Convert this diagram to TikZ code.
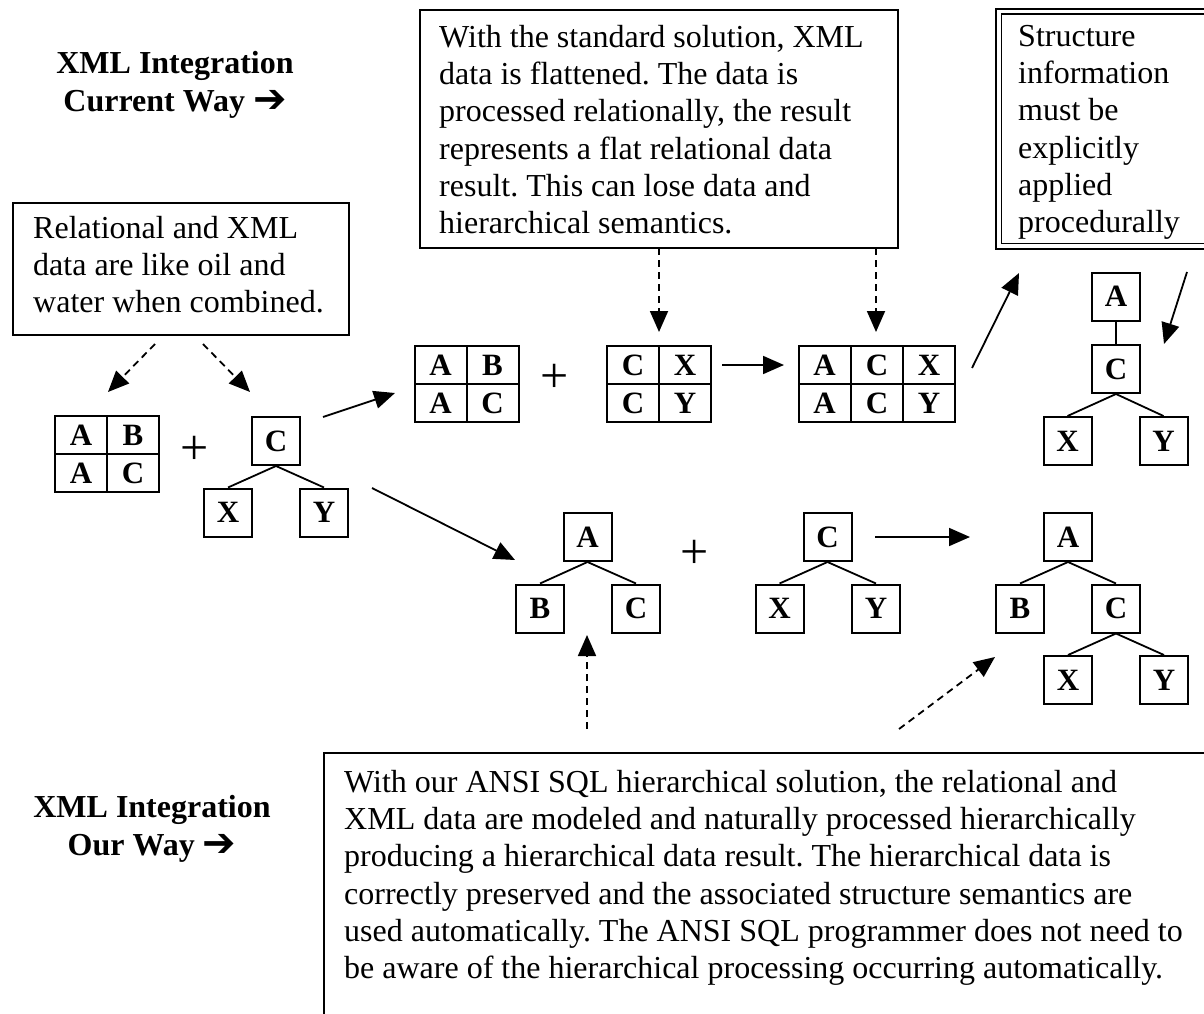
\documentclass[tikz,border=0pt]{standalone}
\usepackage{fontspec}
\setmainfont{Liberation Serif}
\newfontfamily\dejavu{DejaVu Sans}
\usetikzlibrary{arrows.meta}
\frenchspacing
\newcommand{\bodyfont}{\fontsize{32}{37.3}\selectfont\frenchspacing}
\newcommand{\ttlfont}{\fontsize{32}{38}\selectfont\bfseries}
\newcommand{\cellfont}{\fontsize{31}{32}\selectfont\bfseries}
\newcommand{\plusfont}{\fontsize{50}{50}\selectfont}
\newcommand{\rarr}{\raisebox{-1pt}{\dejavu\bfseries\fontsize{40}{40}\selectfont ➔}}
\tikzset{
  cell/.style={draw, line width=2pt, minimum width=52pt, minimum height=38pt, inner sep=0pt, font=\cellfont},
  tbox/.style={draw, line width=2pt, minimum width=48pt, minimum height=48pt, inner sep=0pt, font=\cellfont},
  frame/.style={draw, line width=2pt, inner sep=0pt, anchor=north west},
  arr/.style={-{Triangle[length=21pt,width=18pt]}, line width=1.8pt},
  darr/.style={arr, dash pattern=on 7pt off 5pt},
  treeedge/.style={line width=1.8pt},
  txt/.style={anchor=north west, inner sep=0pt, align=left, font=\bodyfont},
  ttl/.style={anchor=north, inner sep=0pt, align=center, font=\ttlfont},
  plus/.style={inner sep=0pt, font=\plusfont}
}
\begin{document}
\begin{tikzpicture}[x=1pt,y=-1pt]
\useasboundingbox (0,0) rectangle (1204,1014);
\fill[white] (0,0) rectangle (1204,1014);
\clip (0,0) rectangle (1204,1014);

% titles
\node[ttl] (title1) at (175,46.4) {\strut XML Integration\\Current Way \rarr};
\node[ttl] (title2) at (152,790.4) {\strut XML Integration\\Our Way \rarr};

% text boxes
\node[frame, minimum width=336pt, minimum height=132pt] (relbox) at (12,202) {};
\node[txt] (reltext) at (33,211.9) {\strut Relational and XML\\data are like oil and\\water when combined.};

\node[frame, minimum width=478pt, minimum height=238pt] (stdbox) at (419,9) {};
\node[txt] (stdtext) at (439,20.9) {\strut With the standard solution, XML\\data is flattened. The data is\\processed relationally, the result\\represents a flat relational data\\result. This can lose data and\\hierarchical semantics.};

\node[frame, minimum width=240pt, minimum height=240pt] (strbox) at (995,8) {};
\node[draw, line width=1.3pt, inner sep=0pt, anchor=north west, minimum width=240pt, minimum height=229pt] (strinner) at (1000.5,13.5) {};
\node[txt] (strtext) at (1018,19.9) {\strut Structure\\information\\must be\\explicitly\\applied\\procedurally};

\node[frame, minimum width=900pt, minimum height=300pt] (ourbox) at (323,752) {};
\node[txt] (ourtext) at (344,765.9) {\strut With our ANSI SQL hierarchical solution, the relational and\\XML data are modeled and naturally processed hierarchically\\producing a hierarchical data result. The hierarchical data is\\correctly preserved and the associated structure semantics are\\used automatically. The ANSI SQL programmer does not need to\\be aware of the hierarchical processing occurring automatically.};

% left table
\node[cell] (lt1) at (81,435) {A};
\node[cell] (lt2) at (133,435) {B};
\node[cell] (lt3) at (81,473) {A};
\node[cell] (lt4) at (133,473) {C};
\node[plus] (p1) at (195,450) {+};

% left tree
\node[tbox] (lC) at (276,441) {C};
\node[tbox] (lX) at (228,512.5) {X};
\node[tbox] (lY) at (324,512.5) {Y};
\draw[treeedge] (lC.south) -- (lX.north);
\draw[treeedge] (lC.south) -- (lY.north);

% top tables
\node[cell] (t1a) at (440.5,365) {A};
\node[cell] (t1b) at (492.5,365) {B};
\node[cell] (t1c) at (440.5,403) {A};
\node[cell] (t1d) at (492.5,403) {C};
\node[plus] (p2) at (555,378) {+};
\node[cell] (t2a) at (633,365) {C};
\node[cell] (t2b) at (685,365) {X};
\node[cell] (t2c) at (633,403) {C};
\node[cell] (t2d) at (685,403) {Y};
\node[cell] (t3a) at (824.5,365) {A};
\node[cell] (t3b) at (877,365) {C};
\node[cell] (t3c) at (929,365) {X};
\node[cell] (t3d) at (824.5,403) {A};
\node[cell] (t3e) at (877,403) {C};
\node[cell] (t3f) at (929,403) {Y};

% top right tree
\node[tbox] (rA) at (1116,296.5) {A};
\node[tbox] (rC) at (1116,369) {C};
\node[tbox] (rX) at (1067.5,441) {X};
\node[tbox] (rY) at (1163.5,441) {Y};
\draw[treeedge] (rA.south) -- (rC.north);
\draw[treeedge] (rC.south) -- (rX.north);
\draw[treeedge] (rC.south) -- (rY.north);

% bottom trees
\node[tbox] (bA) at (587.5,537) {A};
\node[tbox] (bB) at (540,608.5) {B};
\node[tbox] (bC) at (636,608.5) {C};
\draw[treeedge] (bA.south) -- (bB.north);
\draw[treeedge] (bA.south) -- (bC.north);
\node[plus] (p3) at (695,554) {+};
\node[tbox] (mC) at (827.5,537) {C};
\node[tbox] (mX) at (779.5,608.5) {X};
\node[tbox] (mY) at (876,608.5) {Y};
\draw[treeedge] (mC.south) -- (mX.north);
\draw[treeedge] (mC.south) -- (mY.north);
\node[tbox] (fA) at (1068,537) {A};
\node[tbox] (fB) at (1020,608.5) {B};
\node[tbox] (fC) at (1116,608.5) {C};
\node[tbox] (fX) at (1068,680) {X};
\node[tbox] (fY) at (1164,680) {Y};
\draw[treeedge] (fA.south) -- (fB.north);
\draw[treeedge] (fA.south) -- (fC.north);
\draw[treeedge] (fC.south) -- (fX.north);
\draw[treeedge] (fC.south) -- (fY.north);

% free connector ends
\coordinate (rd1s) at (155,344); \coordinate (rd1e) at (108,392);
\coordinate (rd2s) at (203,344); \coordinate (rd2e) at (250,392);
\coordinate (sd1s) at (659,248); \coordinate (sd1e) at (659,332);
\coordinate (sd2s) at (876,248); \coordinate (sd2e) at (876,332);
\coordinate (a1s) at (323,417);  \coordinate (a1e) at (395,393);
\coordinate (a2s) at (372,488);  \coordinate (a2e) at (515,560);
\coordinate (a3s) at (722,365);  \coordinate (a3e) at (784,365);
\coordinate (a4s) at (972,368);  \coordinate (a4e) at (1019,273);
\coordinate (a5s) at (1187,272); \coordinate (a5e) at (1164,344);
\coordinate (a6s) at (875,537);  \coordinate (a6e) at (970,537);
\coordinate (u1s) at (587,729);  \coordinate (u1e) at (587,635);
\coordinate (u2s) at (899,729);  \coordinate (u2e) at (995,657);

\draw[darr] (rd1s) -- (rd1e);
\draw[darr] (rd2s) -- (rd2e);
\draw[darr] (sd1s) -- (sd1e);
\draw[darr] (sd2s) -- (sd2e);
\draw[arr] (a1s) -- (a1e);
\draw[arr] (a2s) -- (a2e);
\draw[arr] (a3s) -- (a3e);
\draw[arr] (a4s) -- (a4e);
\draw[arr] (a5s) -- (a5e);
\draw[arr] (a6s) -- (a6e);
\draw[darr] (u1s) -- (u1e);
\draw[darr] (u2s) -- (u2e);
\end{tikzpicture}
\end{document}
